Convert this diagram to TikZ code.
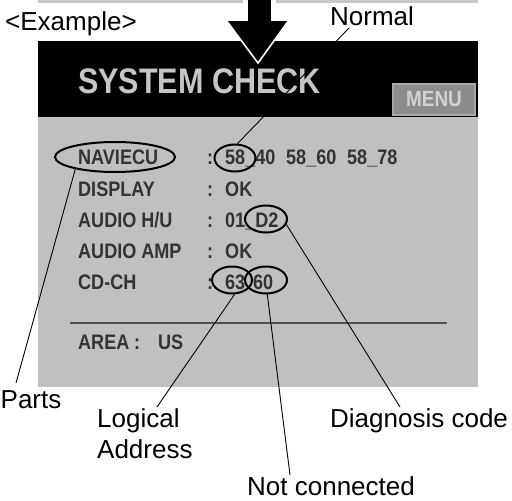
\documentclass[tikz,border=0pt]{standalone}
\usepackage{fontspec}
\setmainfont{Liberation Sans}
\newfontfamily\screenfont{Liberation Sans}[FakeStretch=0.86]
\usetikzlibrary{shapes.geometric}
\definecolor{bandgray}{HTML}{C8C8C8}
\definecolor{panelgray}{HTML}{C0C0C0}
\definecolor{scrtext}{HTML}{333333}
\definecolor{titlegray}{HTML}{C6C6C6}
\definecolor{menufill}{HTML}{8C8C8C}
\definecolor{menuedge}{HTML}{A8A8A8}
\definecolor{menutext}{HTML}{D2D2D2}
\definecolor{rulegray}{HTML}{505050}
\begin{document}
\begin{tikzpicture}[x=1pt,y=-1pt,
  lbl/.style={font=\fontsize{26}{30}\selectfont, inner sep=0pt, text=black},
  scr/.style={font=\screenfont\bfseries\fontsize{21}{24}\selectfont, text=scrtext, inner sep=0pt, anchor=base west},
  ring/.style={ellipse, draw=black, line width=2pt, inner sep=0pt},
  lead/.style={line width=0.9pt, draw=black}]
\useasboundingbox (0,0) rectangle (512,501);

% light band of the previous screen
\fill[bandgray] (38,0) rectangle (243,3);
\fill[bandgray] (276,0) rectangle (478,3);

% screen: black title bar and grey body
\fill[black] (38,41) rectangle (478,117);
\fill[panelgray] (38,117) rectangle (478,387);

% big down arrow
\filldraw[fill=black, draw=white, line width=1.6pt, line join=miter]
  (247,-2) -- (272,-2) -- (272,20) -- (289,20) -- (258,63) -- (226,20) -- (247,20) -- cycle;

% title bar contents
\node[font=\screenfont\bfseries\fontsize{35.5}{40}\selectfont, text=titlegray, inner sep=0pt, anchor=base west] (title) at (78,93) {SYSTEM CHECK};
\node[draw=menuedge, fill=menufill, line width=1.5pt, minimum width=82pt, minimum height=31pt, inner sep=0pt,
      font=\screenfont\bfseries\fontsize{22}{24}\selectfont, text=menutext] (menu) at (434,99.5) {MENU};

% list of parts
\node[scr] (p1) at (78,164) {NAVIECU};
\node[scr] (p2) at (78,196) {DISPLAY};
\node[scr] (p3) at (78,227) {AUDIO H/U};
\node[scr] (p4) at (78,258) {AUDIO AMP};
\node[scr] (p5) at (78,289) {CD-CH};
\foreach \yy/\nm in {164/c1,196/c2,227/c3,258/c4,289/c5}
  \node[scr] (\nm) at (207,\yy) {:};
\node[scr] (v1a) at (225,164) {58\_40};
\node[scr] (v1b) at (286,164) {58\_60};
\node[scr] (v1c) at (347,164) {58\_78};
\node[scr] (v2) at (225,196) {OK};
\node[scr] (v3) at (225,227) {01\_D2};
\node[scr] (v4) at (225,258) {OK};
\node[scr] (v5a) at (225,289) {63};
\node[scr] (v5b) at (253,289) {60};

\draw[rulegray, line width=1.5pt] (70,323) -- (447,323);
\node[scr] (area) at (78,349) {AREA};
\node[scr] (areac) at (134,349) {:};
\node[scr] (areav) at (158,349) {US};

% highlight rings
\node[ring, minimum width=120pt, minimum height=30pt] (eNavi) at (115,157) {};
\node[ring, minimum width=41pt, minimum height=27pt] (e58) at (235,158) {};
\node[ring, minimum width=42pt, minimum height=27pt] (eD2) at (266,219) {};
\node[ring, minimum width=40pt, minimum height=27pt] (e63) at (232,280) {};
\node[ring, minimum width=42pt, minimum height=27pt] (e60) at (266,280) {};

% callout labels
\node[lbl, anchor=base west] (ex) at (5,30) {<Example>};
\node[lbl, anchor=base west] (normal) at (330,25) {Normal};
\node[lbl, anchor=base west] (parts) at (0.5,408) {Parts};
\node[lbl, anchor=base west] (logical) at (97,427) {Logical};
\node[lbl, anchor=base west] (address) at (97,458) {Address};
\node[lbl, anchor=base west] (diag) at (330,427) {Diagnosis code};
\node[lbl, anchor=base west] (notcon) at (247,495) {Not connected};

% leader line ends
\coordinate (nEnd) at (349,28);
\coordinate (pEnd) at (16,383);
\coordinate (lEnd) at (157,407);
\coordinate (ncEnd) at (290,475);
\coordinate (dEnd) at (400,407);

\draw[lead] (nEnd) -- (e58.80);
\draw[lead] (eNavi.197) -- (pEnd);
\draw[lead] (e63.280) -- (lEnd);
\draw[lead] (e60.275) -- (ncEnd);
\draw[lead] (eD2.-15) -- (dEnd);
\end{tikzpicture}
\end{document}
